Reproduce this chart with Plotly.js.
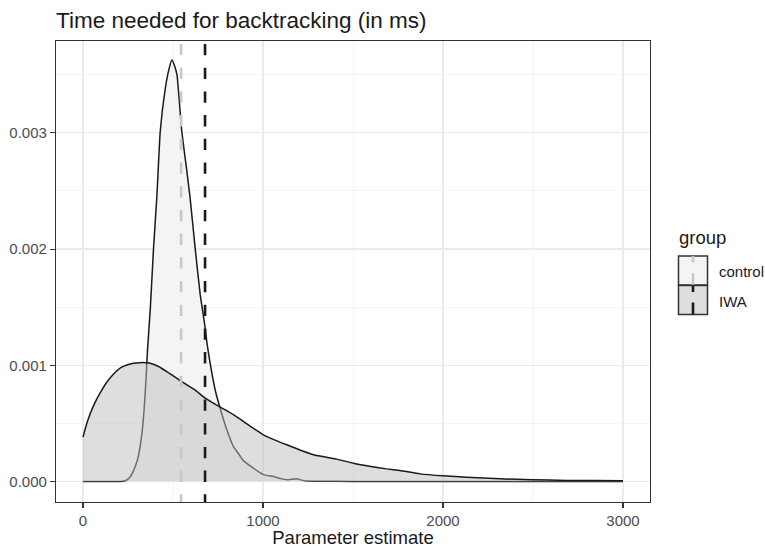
<!DOCTYPE html>
<html>
<head>
<meta charset="utf-8">
<script src="https://cdn.plot.ly/plotly-3.0.1.min.js"></script>
<style>html,body{margin:0;padding:0;background:#fff;}#chart{width:765px;height:548px;}</style>
</head>
<body>
<div id="chart"></div>
<script>
// ---- data ----
const groups = ["control", "IWA"];

const controlX = [0, 100, 210, 230, 253, 270, 290, 305, 318, 330, 340, 350, 358, 374, 392, 411, 429, 457, 478, 494, 508, 522, 549, 577, 595, 623, 651, 679, 688, 706, 734, 762, 799, 836, 873, 891, 947, 1002, 1058, 1100, 1132, 1160, 1187, 1220, 1243, 1300, 1400, 1600, 1800, 2000, 2200, 2500, 2800, 3000];
const controlY = [0, 0, 0, 0.000005, 0.000025, 0.00006, 0.00013, 0.0002, 0.00031, 0.00045, 0.00063, 0.00088, 0.00112, 0.00149, 0.00201, 0.00247, 0.00301, 0.00338, 0.00355, 0.003626, 0.00358, 0.0035, 0.00301, 0.00267, 0.00244, 0.00201, 0.00161, 0.00132, 0.0012, 0.00102, 0.00079, 0.00063, 0.000445, 0.0003, 0.00022, 0.00018, 0.000115, 0.00006, 0.000043, 0.000025, 0.000015, 0.00002, 0.000023, 0.00001, 0.000004, 0.000003, 0.000002, 0.000001, 0.000001, 0, 0, 0, 0, 0];

const iwaX = [0, 20, 41, 70, 96, 130, 170, 210, 244, 280, 318, 350, 373, 420, 466, 510, 558, 620, 679, 762, 820, 873, 1002, 1132, 1280, 1409, 1502, 1600, 1687, 1761, 1872, 2001, 2131, 2316, 2500, 2685, 2850, 3000];
const iwaY = [0.000382, 0.000495, 0.000588, 0.00069, 0.000765, 0.00085, 0.000925, 0.00098, 0.001003, 0.001018, 0.001023, 0.001022, 0.001018, 0.00099, 0.000946, 0.0009, 0.000851, 0.00079, 0.000717, 0.00064, 0.00059, 0.000536, 0.000402, 0.000316, 0.00023, 0.000193, 0.000158, 0.00013, 0.000109, 0.000095, 0.000066, 0.000049, 0.000038, 0.000023, 0.000015, 0.00001, 0.000008, 0.000007];

const groupMeans = [545, 678];

const xTickVals = [0, 1000, 2000, 3000];
const yTickVals = [0, 0.001, 0.002, 0.003];
const yTickText = ["0.000", "0.001", "0.002", "0.003"];

// ---- styling ----
const FONT = "Liberation Sans, Arial, Helvetica, sans-serif";
const W = 765, H = 548;
const M = {l: 56, r: 115, t: 41, b: 46};
const PW = W - M.l - M.r, PH = H - M.t - M.b;
const px = v => (v - M.l) / PW;
const py = v => (H - M.b - v) / PH;

const fillColors = ["#F4F4F4", "rgba(187,189,193,0.5)"];
const keyFills = ["#F4F4F4", "#DDDEE0"];
const meanColors = ["#C8C8C8", "#1A1A1A"];

const traces = [
  {x: controlX, y: controlY, type: "scatter", mode: "lines", fill: "tozeroy",
   fillcolor: fillColors[0], line: {color: "#1A1A1A", width: 1.5, shape: "spline", smoothing: 0.4},
   name: groups[0], showlegend: false, hoverinfo: "skip"},
  {x: iwaX, y: iwaY, type: "scatter", mode: "lines", fill: "tozeroy",
   fillcolor: fillColors[1], line: {color: "#1A1A1A", width: 1.5, shape: "spline", smoothing: 0.4},
   name: groups[1], showlegend: false, hoverinfo: "skip"}
];

const shapes = [];
groupMeans.forEach((m, i) => {
  shapes.push({type: "line", xref: "x", yref: "paper", x0: m, x1: m, y0: 1, y1: 0,
    line: {color: meanColors[i], width: 2.6, dash: "0px,3px,11.3px,9.4px"}, layer: "above"});
});

// custom legend (ggplot style keys)
const keyTop = [256, 285.5];
const keyH = 29, keyL = 678.5, keyR = 707.5, keyC = 693;
const annotations = [
  {text: "group", xref: "paper", yref: "paper", x: px(677), y: py(238), xanchor: "left", yanchor: "middle",
   showarrow: false, font: {family: FONT, size: 18.5, color: "#1A1A1A"}}
];
groups.forEach((g, i) => {
  const t = keyTop[i];
  shapes.push({type: "rect", xref: "paper", yref: "paper", x0: px(keyL), x1: px(keyR), y0: py(t + keyH), y1: py(t),
    fillcolor: keyFills[i], line: {color: "#333333", width: 1.5}, layer: "above"});
  shapes.push({type: "line", xref: "paper", yref: "paper", x0: px(keyC), x1: px(keyC), y0: py(t), y1: py(t + 6.5),
    line: {color: meanColors[i], width: 2.6}, layer: "above"});
  shapes.push({type: "line", xref: "paper", yref: "paper", x0: px(keyC), x1: px(keyC), y0: py(t + 17), y1: py(t + keyH),
    line: {color: meanColors[i], width: 2.6}, layer: "above"});
  annotations.push({text: g, xref: "paper", yref: "paper", x: px(717), y: py(t + keyH / 2 + 1), xanchor: "left", yanchor: "middle",
    showarrow: false, font: {family: FONT, size: 15, color: "#1A1A1A"}});
});

const axisCommon = {
  showline: true, mirror: true, linecolor: "#333333", linewidth: 1.1,
  ticks: "outside", ticklen: 5, tickwidth: 1.1, tickcolor: "#333333",
  tickfont: {family: FONT, size: 15, color: "#4D4D4D"},
  showgrid: true, gridcolor: "#EBEBEB", gridwidth: 1.2, zeroline: false
};

const layout = {
  width: W, height: H, margin: M,
  paper_bgcolor: "#FFFFFF", plot_bgcolor: "#FFFFFF",
  font: {family: FONT},
  title: {text: "Time needed for backtracking (in ms)", font: {family: FONT, size: 22.5, color: "#1A1A1A"},
    x: 0, xref: "paper", xanchor: "left", y: 1 - 20 / H, yref: "container", yanchor: "middle"},
  xaxis: Object.assign({}, axisCommon, {
    range: [-150, 3150], tickvals: xTickVals, ticktext: xTickVals.map(String),
    minor: {tickvals: [500, 1500, 2500], showgrid: true, gridcolor: "#F0F0F0", gridwidth: 0.7, ticklen: 0},
    title: {text: "Parameter estimate", font: {family: FONT, size: 18.5, color: "#1A1A1A"}, standoff: 4}
  }),
  yaxis: Object.assign({}, axisCommon, {
    range: [-0.000176, 0.00379], tickvals: yTickVals, ticktext: yTickText,
    minor: {tickvals: [0.0005, 0.0015, 0.0025, 0.0035], showgrid: true, gridcolor: "#F0F0F0", gridwidth: 0.7, ticklen: 0},
    title: {text: ""}
  }),
  shapes: shapes,
  annotations: annotations,
  showlegend: false
};

Plotly.newPlot("chart", traces, layout, {staticPlot: true, displayModeBar: false});
</script>
</body>
</html>
